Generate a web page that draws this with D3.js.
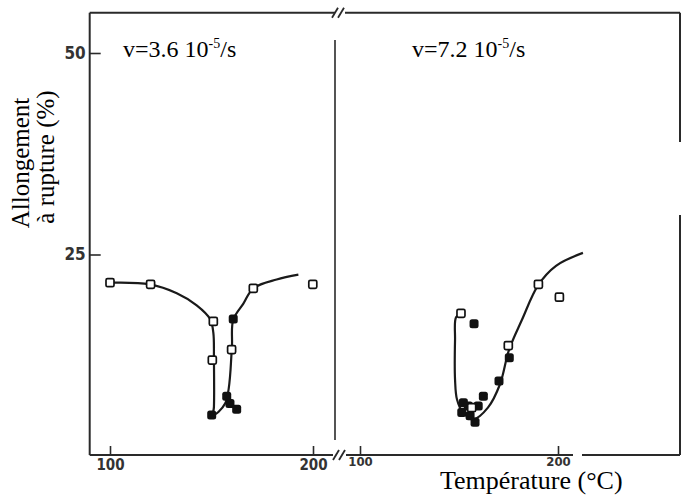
<!DOCTYPE html>
<html>
<head>
<meta charset="utf-8">
<script src="https://cdn.jsdelivr.net/npm/d3@7"></script>
<style>
  html, body { margin: 0; padding: 0; background: #fff; }
  svg { display: block; }
</style>
</head>
<body>
<div id="chart"></div>
<script>
// values: [temperature °C, elongation %]
const yTicks = [25, 50];
const xTicks = [100, 200];

const leftOpen = [[100, 21.5], [120, 21.3], [150.9, 16.7], [150.4, 11.9], [159.9, 13.2], [170.6, 20.8], [199.9, 21.3]];
const leftFilled = [[160.7, 17.0], [150.1, 5.1], [157.5, 7.4], [159.1, 6.5], [162.4, 5.8]];
const leftCurve = [[100, 21.5], [119.7, 21.3], [132.9, 20.2], [142.7, 18.7], [149.3, 17.0], [150.9, 15.3], [151.2, 11.9],
  [151.2, 6.1], [150.9, 5.1], [156.7, 6.5], [160, 13.2], [160.7, 16.9], [165.7, 18.9], [170.6, 20.8], [182.1, 21.9], [192.8, 22.5]];

const rightOpen = [[151.0, 17.7], [174.9, 13.7], [190.1, 21.3], [200.7, 19.7], [156.4, 6.0]];
const rightFilled = [[157.6, 16.4], [175.4, 12.2], [170.2, 9.3], [162.3, 7.4], [152.2, 6.6], [151.4, 5.4], [154.7, 6.2],
  [158.1, 4.2], [159.7, 6.2], [155.6, 5.0]];
const rightCurve = [[151, 17.7], [148.5, 17.2], [148, 14.4], [148, 9.5], [149, 7.0], [152, 5.4], [157.6, 4.6], [164.6, 6.0],
  [170.7, 8.9], [175.3, 13.2], [181.8, 16.9], [190, 21.2], [199, 23.6], [212.6, 25.2]];

const width = 682, height = 497;
const svg = d3.select('#chart').append('svg').attr('width', width).attr('height', height);
svg.append('rect').attr('width', width).attr('height', height).attr('fill', '#fff');

const y = d3.scaleLinear([0, 50], [456, 53]);
const xLeft = d3.scaleLinear([100, 200], [110, 313]);
const xRight = d3.scaleLinear([100, 200], [360, 558]);

const frameTop = y(55);
const frameBottom = 455;
const frameLeft = xLeft(90);
const frameRight = 680;
const mid = 335;
const ink = '#2a2a2a';

// frame
const frame = svg.append('g').attr('stroke', ink).attr('stroke-width', 2).attr('fill', 'none');
frame.append('line').attr('x1', frameLeft).attr('x2', frameLeft).attr('y1', frameTop).attr('y2', frameBottom);
frame.append('line').attr('x1', frameLeft).attr('x2', mid).attr('y1', frameTop).attr('y2', frameTop);
frame.append('line').attr('x1', mid + 10).attr('x2', frameRight).attr('y1', frameTop).attr('y2', frameTop);
frame.append('line').attr('x1', frameLeft).attr('x2', mid - 2).attr('y1', frameBottom).attr('y2', frameBottom);
frame.append('line').attr('x1', mid + 11).attr('x2', 573).attr('y1', frameBottom).attr('y2', frameBottom);
frame.append('line').attr('x1', 582).attr('x2', frameRight).attr('y1', frameBottom).attr('y2', frameBottom);
frame.append('line').attr('x1', frameRight).attr('x2', frameRight).attr('y1', frameTop).attr('y2', 142);
frame.append('line').attr('x1', frameRight).attr('x2', frameRight).attr('y1', 215).attr('y2', frameBottom);
frame.append('line').attr('x1', mid).attr('x2', mid).attr('y1', 40).attr('y2', 440).attr('stroke-width', 1.6);

// break marks
[[mid + 3, frameTop], [mid + 4, frameBottom]].forEach(([bx, by]) => {
  [-3, 3].forEach((o) => {
    frame.append('line').attr('x1', bx + o - 3).attr('y1', by + 5).attr('x2', bx + o + 3).attr('y2', by - 5).attr('stroke-width', 1.8);
  });
});

// axes
const tickFont = '"Liberation Sans Narrow", "Arial Narrow", "DejaVu Sans Condensed", sans-serif';
function styleAxis(g, size) {
  g.select('.domain').remove();
  g.selectAll('.tick line').attr('stroke', ink).attr('stroke-width', 1.6);
  g.selectAll('.tick text').attr('fill', '#333').attr('font-family', tickFont).attr('font-weight', 'bold').attr('font-size', size);
}
svg.append('g').attr('transform', `translate(${frameLeft},0)`)
  .call(d3.axisLeft(y).tickValues(yTicks).tickSize(-11).tickPadding(4).tickFormat(d3.format('d')))
  .call((g) => styleAxis(g, 17));
svg.append('g').attr('transform', `translate(0,${frameBottom})`)
  .call(d3.axisBottom(xLeft).tickValues(xTicks).tickSize(-9).tickPadding(4).tickFormat(d3.format('d')))
  .call((g) => styleAxis(g, 15));
svg.append('g').attr('transform', `translate(0,${frameBottom})`)
  .call(d3.axisBottom(xRight).tickValues(xTicks).tickSize(-9).tickPadding(2).tickFormat(d3.format('d')))
  .call((g) => styleAxis(g, 13));

// curves and points
const panels = [
  { x: xLeft, curve: leftCurve, open: leftOpen, filled: leftFilled },
  { x: xRight, curve: rightCurve, open: rightOpen, filled: rightFilled },
];
panels.forEach((p) => {
  const line = d3.line().x((d) => p.x(d[0])).y((d) => y(d[1])).curve(d3.curveCatmullRom.alpha(0.5));
  svg.append('path').datum(p.curve).attr('d', line).attr('fill', 'none').attr('stroke', '#1a1a1a').attr('stroke-width', 2.2);
  svg.append('g').selectAll('rect').data(p.filled).join('rect')
    .attr('x', (d) => p.x(d[0]) - 4.5).attr('y', (d) => y(d[1]) - 4.5).attr('width', 9).attr('height', 9).attr('rx', 2.5)
    .attr('fill', '#111');
  svg.append('g').selectAll('rect').data(p.open).join('rect')
    .attr('x', (d) => p.x(d[0]) - 4).attr('y', (d) => y(d[1]) - 4).attr('width', 8).attr('height', 8).attr('rx', 1.5)
    .attr('fill', '#fff').attr('stroke', '#111').attr('stroke-width', 1.7);
});

// titles
const serif = '"Liberation Serif", "Times New Roman", serif';
function rateLabel(x0, text) {
  const t = svg.append('text').attr('x', x0).attr('y', 57).attr('font-family', serif).attr('font-size', 24).attr('fill', '#000');
  t.append('tspan').text(text);
  t.append('tspan').attr('dy', -9).attr('font-size', 14).text('-5');
  t.append('tspan').attr('dy', 9).text('/s');
}
rateLabel(123, 'v=3.6 10');
rateLabel(412, 'v=7.2 10');

svg.append('text').attr('transform', 'translate(29,163) rotate(-90)').attr('text-anchor', 'middle')
  .attr('font-family', serif).attr('font-size', 25).text('Allongement');
svg.append('text').attr('transform', 'translate(54,157) rotate(-90)').attr('text-anchor', 'middle')
  .attr('font-family', serif).attr('font-size', 25).text('à rupture (%)');
svg.append('text').attr('x', 440).attr('y', 489).attr('font-family', serif).attr('font-size', 26).text('Température (°C)');
</script>
</body>
</html>
